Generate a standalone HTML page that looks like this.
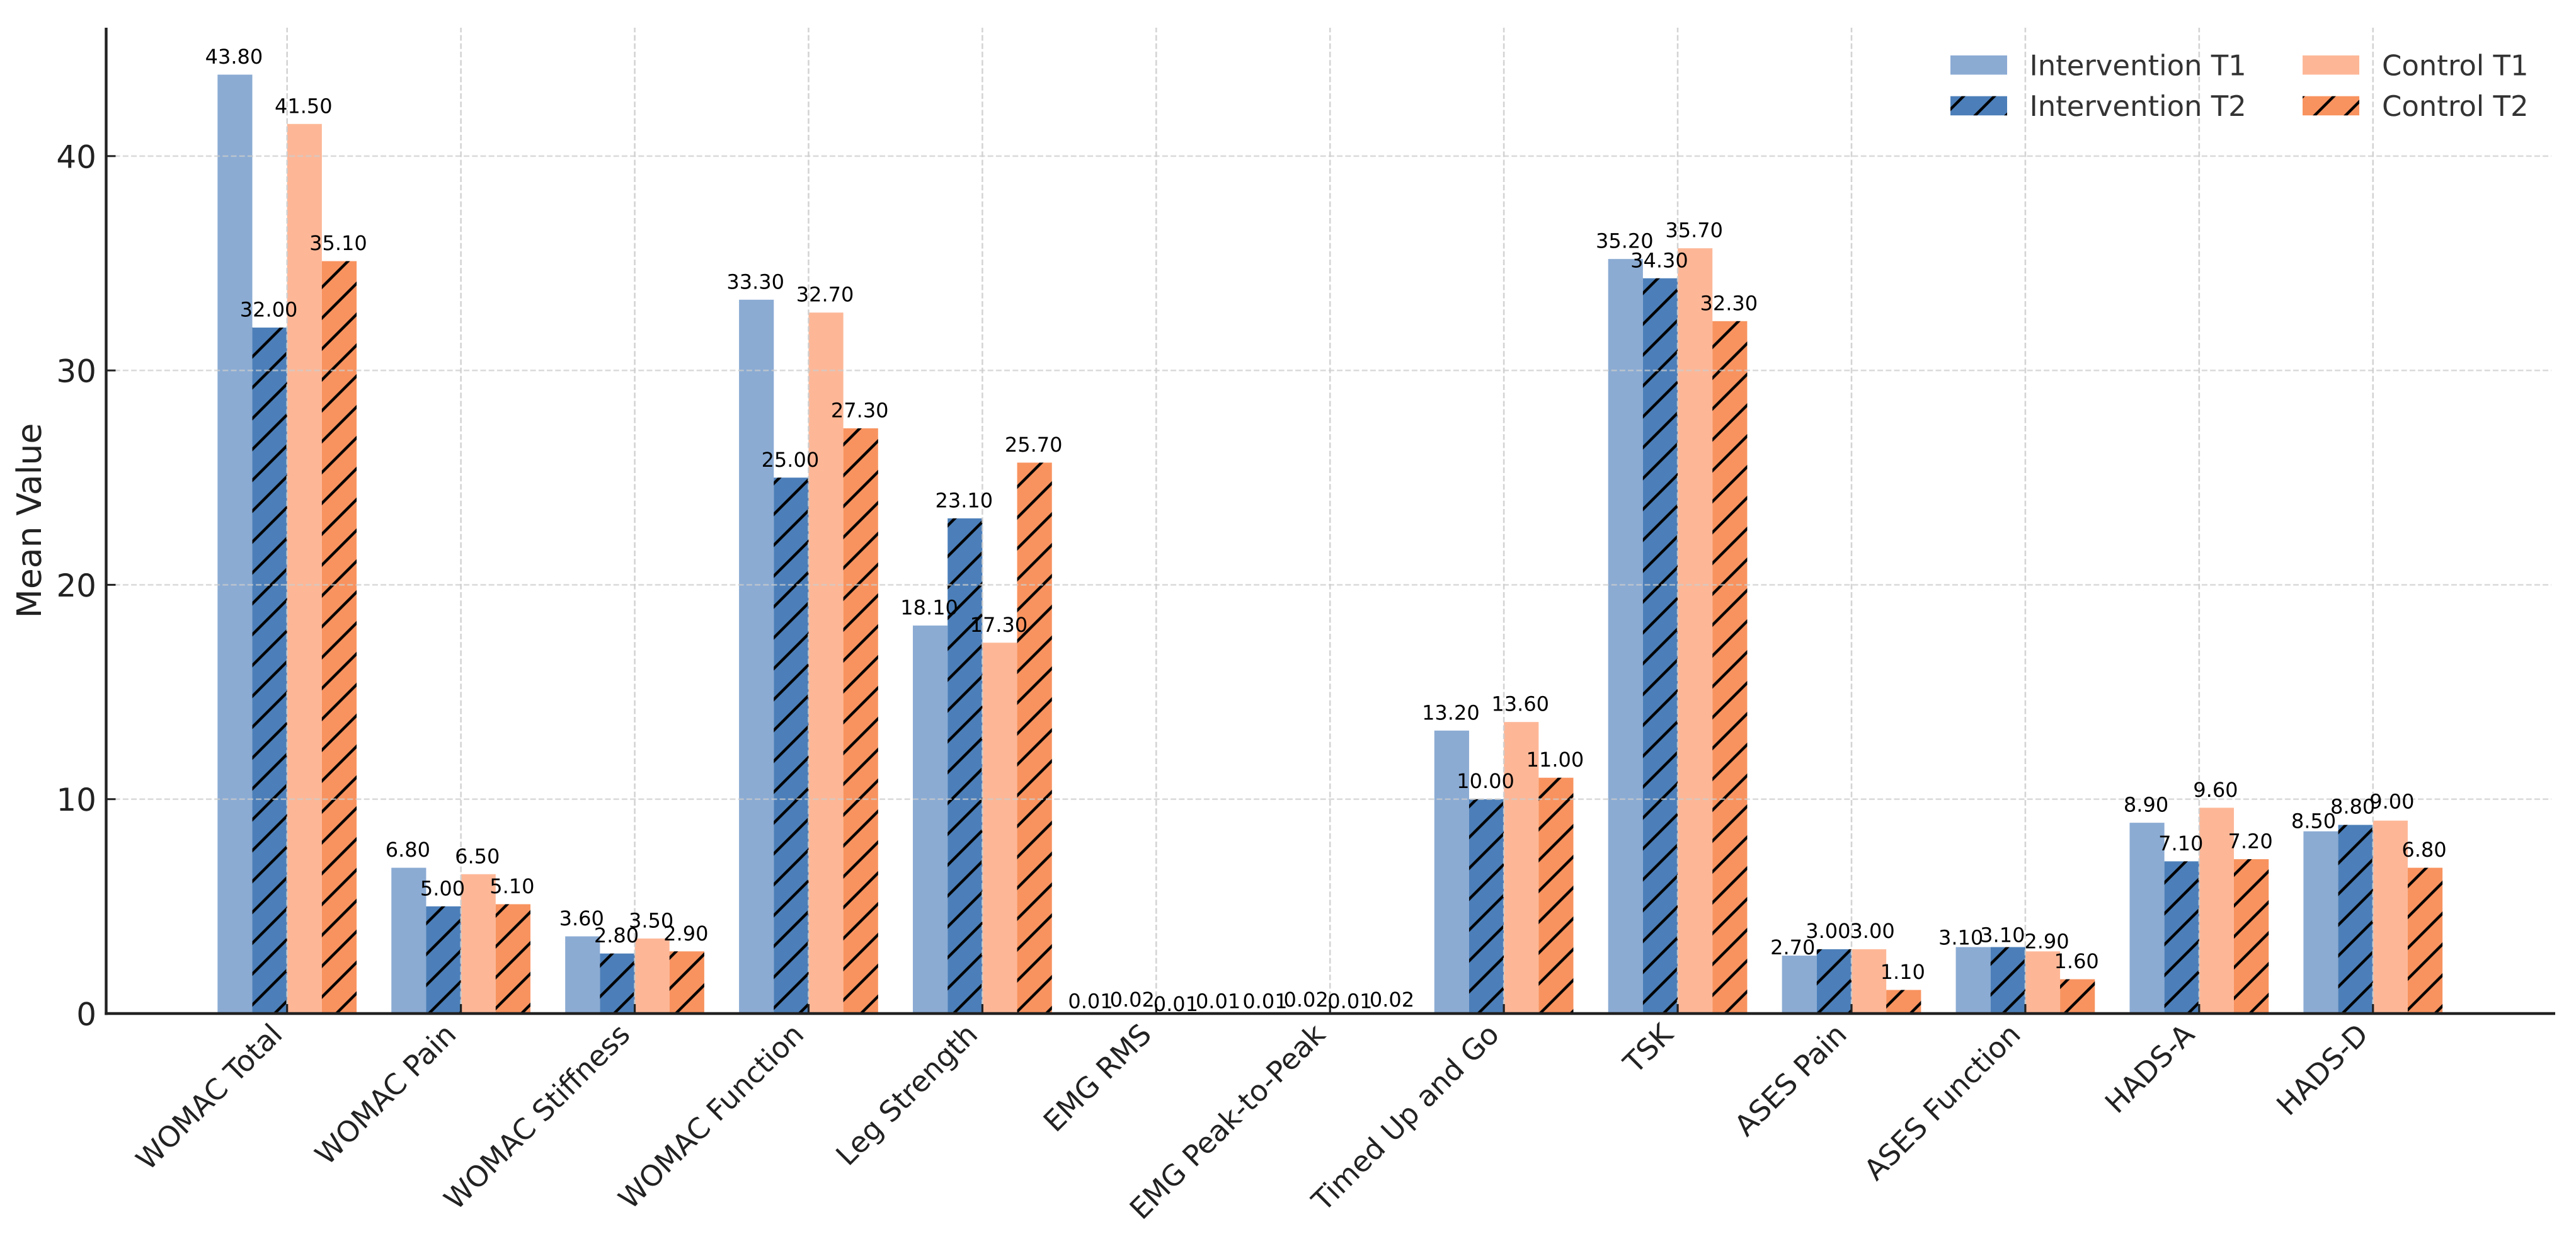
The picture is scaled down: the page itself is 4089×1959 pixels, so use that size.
<!DOCTYPE html>
<html lang="en">
<head>
<meta charset="utf-8">
<title>Mean Value by Outcome</title>
<style>
html,body{margin:0;padding:0;background:#fff;}
svg{display:block;font-family:"DejaVu Sans","Liberation Sans",sans-serif;text-rendering:geometricPrecision;}
</style>
</head>
<body>
<svg id="chart" xmlns="http://www.w3.org/2000/svg" width="4089" height="1959" viewBox="0 0 4089 1959">
  <defs>
    <pattern id="hatch" patternUnits="userSpaceOnUse" width="48.99" height="48.99" patternTransform="translate(36.2,0)">
      <line x1="-6" y1="54.99" x2="54.99" y2="-6" stroke="#000" stroke-width="4.4"/>
      <line x1="-6" y1="6" x2="6" y2="-6" stroke="#000" stroke-width="4.4"/>
      <line x1="42.99" y1="54.99" x2="54.99" y2="42.99" stroke="#000" stroke-width="4.4"/>
    </pattern>
  </defs>
  <rect x="0" y="0" width="4089" height="1959" fill="#ffffff"/>
  <g id="bars"></g>
  <g id="grid"></g>
  <g id="axes"></g>
  <g id="labels"></g>
  <g id="legend"></g>
</svg>
<script>
const categories = ["WOMAC Total","WOMAC Pain","WOMAC Stiffness","WOMAC Function","Leg Strength","EMG RMS","EMG Peak-to-Peak","Timed Up and Go","TSK","ASES Pain","ASES Function","HADS-A","HADS-D"];
const interventionT1 = [43.8,6.8,3.6,33.3,18.1,0.01,0.01,13.2,35.2,2.7,3.1,8.9,8.5];
const interventionT2 = [32.0,5.0,2.8,25.0,23.1,0.02,0.02,10.0,34.3,3.0,3.1,7.1,8.8];
const controlT1 = [41.5,6.5,3.5,32.7,17.3,0.01,0.01,13.6,35.7,3.0,2.9,9.6,9.0];
const controlT2 = [35.1,5.1,2.9,27.3,25.7,0.01,0.02,11.0,32.3,1.1,1.6,7.2,6.8];
const yTickLabels = [0,10,20,30,40];
const seriesNames = ["Intervention T1","Intervention T2","Control T1","Control T2"];

const NS = "http://www.w3.org/2000/svg";
const X0 = 455.7, XSTEP = 275.92, BAR_W = 55.18;
const Y0 = 1609, YUNIT = 34.03;
const AX_L = 168.5, AX_R = 4056, AX_T = 44;
const fills = ["#8BABD3","#4C7FB9","#FDB797","#F8935F"];
const hatched = [false,true,false,true];
const allSeries = [interventionT1,interventionT2,controlT1,controlT2];
const DEFAULT_GAP = 17.5;
// Hand placement of crowded value labels: "series-group": [dx, gap above bar]
const labelPlacement = {
  "0-5":[-20,8],"1-5":[-9,10.4],"2-5":[5,3.7],"3-5":[17,8],
  "0-6":[-19,8],"1-6":[-9,10.4],"2-6":[5.6,8],"3-6":[17,10.4],
  "0-9":[-9,2],"1-9":[-8,18],"2-9":[7,18],
  "0-10":[-18,4],"1-10":[-7,8],"2-10":[8,5],
  "0-12":[-10,5],"1-12":[-3,18],"2-12":[4,19]
};

function xScale(i){ return X0 + i*XSTEP; }
function yScale(v){ return Y0 - v*YUNIT; }
function make(tag, attrs, parent){
  const el = document.createElementNS(NS, tag);
  for (const k in attrs) el.setAttribute(k, attrs[k]);
  parent.appendChild(el);
  return el;
}
const barsG = document.getElementById("bars");
const gridG = document.getElementById("grid");
const axesG = document.getElementById("axes");
const labelsG = document.getElementById("labels");
const legendG = document.getElementById("legend");

// bars
allSeries.forEach(function(values, s){
  values.forEach(function(v, i){
    const x = xScale(i) + (s-2)*BAR_W;
    const top = yScale(v);
    const bar = make("rect",{x:x,y:top,width:BAR_W,height:Y0-top,fill:fills[s]},barsG);
    
    
    if (hatched[s]) {
      const h = make("rect",{x:x,y:top,width:BAR_W,height:Y0-top,fill:"url(#hatch)"},barsG);
      
      
    }
  });
});

// gridlines
yTickLabels.slice(1).forEach(function(t){
  const g = make("line",{x1:AX_L,x2:AX_R-6,y1:yScale(t),y2:yScale(t),stroke:"#ccc","stroke-opacity":0.7,"stroke-width":2.6,"stroke-dasharray":"9 4.2"},gridG);
  
  
});
categories.forEach(function(c,i){
  const g = make("line",{x1:xScale(i),x2:xScale(i),y1:Y0,y2:AX_T,stroke:"#ccc","stroke-opacity":0.85,"stroke-width":2.6,"stroke-dasharray":"9 4.2"},gridG);
  
  
});

// y axis ticks and labels
yTickLabels.forEach(function(t){
  const tk = make("line",{x1:AX_L,x2:AX_L+15,y1:yScale(t),y2:yScale(t),stroke:"#222","stroke-width":3},axesG);
  
  
  const lb = make("text",{x:153,y:yScale(t)+18.5,"text-anchor":"end","font-size":50,fill:"#222"},axesG);
  lb.textContent = String(t);
  
  
});

// x axis ticks and labels
categories.forEach(function(c,i){
  const x = xScale(i);
  const tk = make("line",{x1:x,x2:x,y1:Y0,y2:Y0-15,stroke:"#222","stroke-width":3.2},axesG);
  
  
  const ax = x-5, ay = 1645;
  const lb = make("text",{x:ax,y:ay,"text-anchor":"end","font-size":45.7,fill:"#222",transform:"rotate(-45 "+ax+" "+ay+")"},axesG);
  lb.textContent = c;
  
  
});

// spines
const spineL = make("line",{x1:AX_L,x2:AX_L,y1:AX_T,y2:Y0+2.2,stroke:"#222","stroke-width":4.4},axesG);


const spineB = make("line",{x1:AX_L-2.2,x2:AX_R,y1:Y0,y2:Y0,stroke:"#222","stroke-width":4.4},axesG);



// y axis title
const yTitle = make("text",{x:65,y:826.5,"text-anchor":"middle","font-size":53.5,fill:"#222",transform:"rotate(-90 65 826.5)"},axesG);
yTitle.textContent = "Mean Value";



// value labels
allSeries.forEach(function(values, s){
  values.forEach(function(v, i){
    const place = labelPlacement[s+"-"+i] || [0,DEFAULT_GAP];
    const cx = xScale(i) + (s-1.5)*BAR_W + place[0] - 1.5;
    const lb = make("text",{x:cx,y:yScale(v)-place[1],"text-anchor":"middle","font-size":32,fill:"#000"},labelsG);
    lb.textContent = v.toFixed(2);
    
    
  });
});

// legend
const legendCols = [3096,3096,3655,3655];
const legendRows = [88,152.7,88,152.7];
const legendTextX = [3221.5,3221.5,3781,3781];
seriesNames.forEach(function(name, s){
  const sw = make("rect",{x:legendCols[s],y:legendRows[s],width:90,height:30.5,fill:fills[s]},legendG);
  
  
  if (hatched[s]) {
    const h = make("rect",{x:legendCols[s],y:legendRows[s],width:90,height:30.5,fill:"url(#hatch)"},legendG);
    
    
  }
  const t = make("text",{x:legendTextX[s],y:legendRows[s]+31.5,"font-size":44.9,fill:"#333"},legendG);
  t.textContent = name;
  
  
});
</script>
</body>
</html>
